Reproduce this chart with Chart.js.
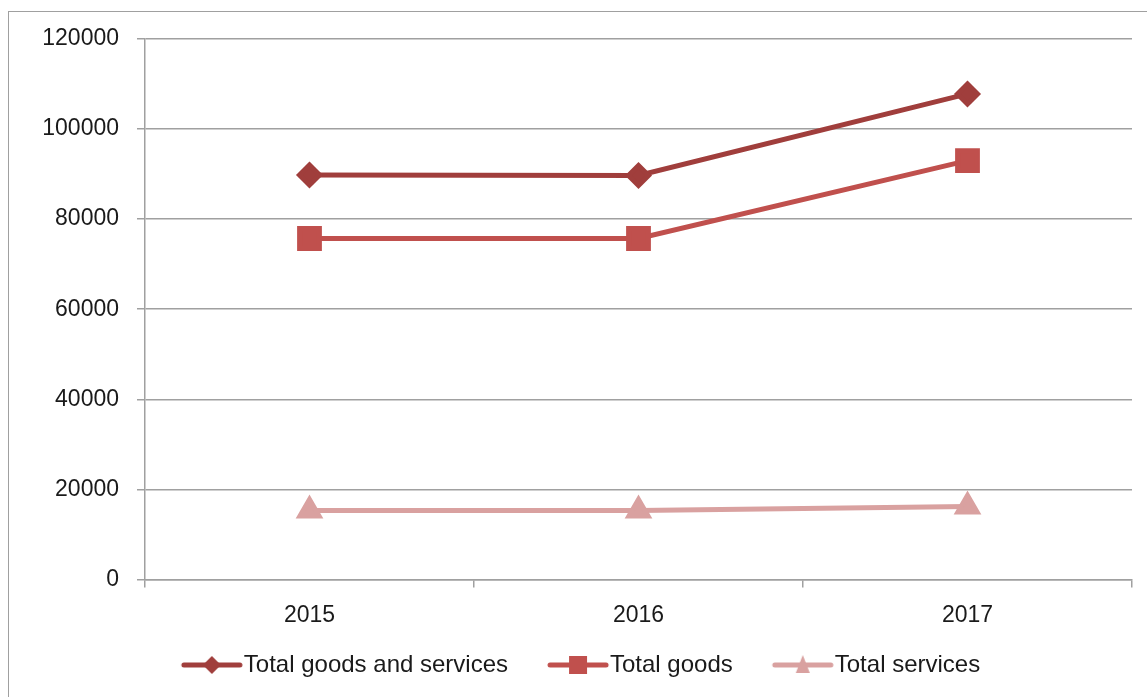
<!DOCTYPE html>
<html>
<head>
<meta charset="utf-8">
<script src="https://cdn.jsdelivr.net/npm/chart.js@4"></script>
<style>
  html, body { margin: 0; padding: 0; background: #fff; overflow: hidden; }
  #frame { position: absolute; left: 8px; top: 11px; width: 1300px; height: 900px; border: 1px solid #a0a0a0; }
  #wrap { position: absolute; left: 0; top: 0; width: 1147px; height: 697px; }
</style>
</head>
<body>
<div id="frame"></div>
<div id="wrap"><canvas id="chart1"></canvas></div>
<script>
// chart data
const years = ["2015", "2016", "2017"];
const goodsAndServices = [89800, 89700, 107800];
const goods = [75700, 75700, 93000];
const services = [15300, 15300, 16200];
const yTicks = [0, 20000, 40000, 60000, 80000, 100000, 120000];

const darkRed = "rgb(160, 62, 60)";
const midRed = "rgb(192, 80, 77)";
const lightRed = "rgb(217, 161, 160)";

// legend box width; the icon canvas is 24 wider so the line reaches the text
const BOX = 80;
function legendIcon(color, shape) {
  const c = document.createElement("canvas");
  c.width = BOX + 24;
  c.height = 22;
  const g = c.getContext("2d");
  const x1 = c.width - 62, x2 = c.width - 2, mid = (x1 + x2) / 2;
  g.strokeStyle = color;
  g.fillStyle = color;
  g.lineWidth = 5;
  g.lineCap = "round";
  g.beginPath();
  g.moveTo(x1 + 2, 11);
  g.lineTo(x2 - 2, 11);
  g.stroke();
  g.beginPath();
  if (shape == "diamond") {
    g.moveTo(mid, 2); g.lineTo(mid + 9, 11); g.lineTo(mid, 20); g.lineTo(mid - 9, 11);
  } else if (shape == "square") {
    g.rect(mid - 9, 2, 18, 18);
  } else {
    g.moveTo(mid, 1); g.lineTo(mid + 7, 19); g.lineTo(mid - 7, 19);
  }
  g.closePath();
  g.fill();
  return c;
}
const icons = [
  legendIcon(darkRed, "diamond"),
  legendIcon(midRed, "square"),
  legendIcon(lightRed, "triangle"),
];

const font = { family: "'Liberation Sans', Arial, sans-serif", size: 23 };
const legendFont = { family: "'Liberation Sans', Arial, sans-serif", size: 24 };

const ctx = document.getElementById("chart1").getContext("2d");
const myChart = new Chart(ctx, {
  type: "line",
  data: {
    labels: years,
    datasets: [
      {
        label: "Total goods and services",
        data: goodsAndServices,
        borderColor: darkRed,
        backgroundColor: darkRed,
        borderWidth: 5,
        pointStyle: "rectRot",
        pointRadius: 10,
        pointHoverRadius: 10,
      },
      {
        label: "Total goods",
        data: goods,
        borderColor: midRed,
        backgroundColor: midRed,
        borderWidth: 5,
        pointStyle: "rect",
        pointRadius: 14,
        pointHoverRadius: 14,
      },
      {
        label: "Total services",
        data: services,
        borderColor: lightRed,
        backgroundColor: lightRed,
        borderWidth: 5,
        pointStyle: "triangle",
        pointRadius: 11,
        pointHoverRadius: 11,
      },
    ],
  },
  options: {
    responsive: true,
    maintainAspectRatio: false,
    animation: false,
    layout: { autoPadding: false, padding: { top: 39, right: 15, left: 0, bottom: 10 } },
    plugins: {
      tooltip: { enabled: false },
      legend: {
        position: "bottom",
        labels: {
          usePointStyle: true,
          pointStyleWidth: BOX,
          boxHeight: 22,
          padding: 10,
          color: "#1a1a1a",
          font: legendFont,
          generateLabels: (chart) => {
            const items = Chart.defaults.plugins.legend.labels.generateLabels(chart);
            items.forEach((it, i) => { it.pointStyle = icons[i]; });
            return items;
          },
        },
      },
    },
    scales: {
      x: {
        offset: true,
        grid: {
          offset: true,
          drawOnChartArea: false,
          drawTicks: true,
          tickLength: 8,
          color: "#a0a0a0",
          lineWidth: 1.5,
        },
        border: { color: "#a0a0a0", width: 1.5 },
        ticks: { color: "#1a1a1a", font: font, padding: 14 },
      },
      y: {
        min: 0,
        max: 120000,
        afterBuildTicks: (scale) => {
          scale.ticks = yTicks.map((v) => ({ value: v }));
        },
        afterFit: (scale) => { scale.width = 145; },
        grid: {
          color: "#a0a0a0",
          lineWidth: 1.5,
          tickLength: 8,
        },
        border: { color: "#a0a0a0", width: 1.5 },
        ticks: {
          color: "#1a1a1a",
          font: font,
          padding: 18,
          callback: (v) => String(v),
        },
      },
    },
  },
});
</script>
</body>
</html>
